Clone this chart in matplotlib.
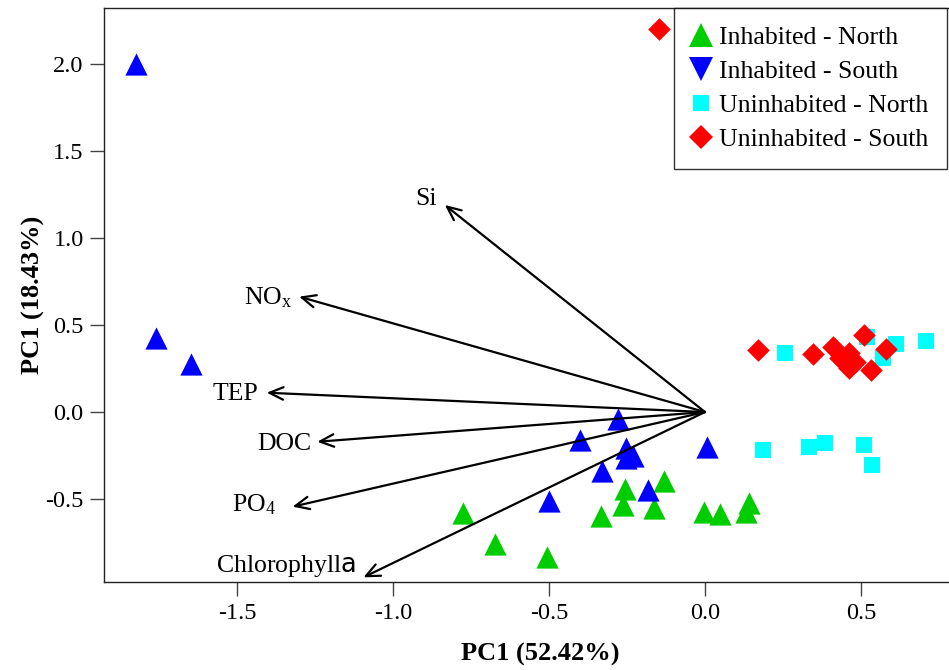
import matplotlib
matplotlib.use("Agg")
import matplotlib.pyplot as plt
from matplotlib.lines import Line2D

plt.rcParams["font.family"] = ["Liberation Serif", "DejaVu Serif"]
plt.rcParams["mathtext.fontset"] = "custom"
plt.rcParams["mathtext.rm"] = "Liberation Serif"
plt.rcParams["mathtext.it"] = "Liberation Serif:italic"
plt.rcParams["mathtext.sf"] = "DejaVu Sans"
plt.rcParams["axes.unicode_minus"] = False

# PCA scores per group
inh_north_x = [-0.132, -0.256, -0.262, -0.164, -0.334, -0.776, -0.674, -0.507,
               -0.003, 0.049, 0.141, 0.131]
inh_north_y = [-0.395, -0.441, -0.533, -0.552, -0.598, -0.582, -0.760, -0.832,
               -0.573, -0.588, -0.525, -0.573]

inh_south_x = [-1.824, -1.760, -1.648, -0.278, -0.400, -0.254, -0.230, -0.253,
               -0.329, -0.182, -0.500, 0.005]
inh_south_y = [1.998, 0.427, 0.274, -0.042, -0.161, -0.207, -0.253, -0.264,
               -0.339, -0.448, -0.511, -0.199]

uninh_north_x = [0.256, 0.518, 0.611, 0.709, 0.572, 0.185, 0.333, 0.385, 0.510, 0.536]
uninh_north_y = [0.341, 0.433, 0.389, 0.410, 0.309, -0.218, -0.199, -0.176, -0.190, -0.303]

uninh_south_x = [-0.147, 0.169, 0.347, 0.410, 0.433, 0.463, 0.462, 0.481, 0.511, 0.580, 0.531]
uninh_south_y = [2.201, 0.356, 0.333, 0.375, 0.309, 0.337, 0.251, 0.289, 0.443, 0.362, 0.241]

# loadings (arrow tips) and label anchors
var_names = ["Si", r"NO$_{\mathrm{x}}$", "TEP", "DOC", r"PO$_{\mathrm{4}}$",
             r"Chlorophyll$\mathsf{a}$"]
load_x = [-0.834, -1.301, -1.405, -1.243, -1.322, -1.095]
load_y = [1.190, 0.663, 0.111, -0.171, -0.544, -0.950]
label_x = [-0.895, -1.401, -1.504, -1.350, -1.446, -1.343]
label_y = [1.224, 0.655, 0.103, -0.184, -0.534, -0.885]

x_ticks = [-1.5, -1.0, -0.5, 0.0, 0.5]
y_ticks = [-0.5, 0.0, 0.5, 1.0, 1.5, 2.0]

fig = plt.figure(figsize=(9.49, 6.70), dpi=100)
ax = fig.add_axes([0.1101, 0.1313, 0.9194, 0.8568])

ax.scatter(inh_north_x, inh_north_y, marker="^", s=16**2, color="#00CD00",
           linewidths=0, zorder=3)
ax.scatter(inh_south_x, inh_south_y, marker="^", s=16**2, color="#0000FF",
           linewidths=0, zorder=3)
ax.scatter(uninh_north_x, uninh_north_y, marker="s", s=12**2, color="#00FFFF",
           linewidths=0, zorder=3)
ax.scatter(uninh_south_x, uninh_south_y, marker="D", s=11.5**2, color="#FF0000",
           linewidths=0, zorder=4)

for lx, ly in zip(load_x, load_y):
    ax.annotate("", xy=(lx, ly), xytext=(0, 0),
                arrowprops=dict(arrowstyle="->,head_length=1.0,head_width=0.45",
                                color="black", lw=1.6, shrinkA=0, shrinkB=0),
                zorder=5)
for name, tx, ty in zip(var_names, label_x, label_y):
    ax.text(tx, ty, name, ha="center", va="center", fontsize=18.5, zorder=6)

ax.set_xlim(-1.925, 0.872)
ax.set_ylim(-0.977, 2.322)
ax.set_xticks(x_ticks)
ax.set_yticks(y_ticks)
ax.set_xticklabels([f"{v:.1f}" for v in x_ticks])
ax.set_yticklabels([f"{v:.1f}" for v in y_ticks])
ax.tick_params(labelsize=17.5, length=10, width=1, color="#444444", pad=5)
for sp in ax.spines.values():
    sp.set_linewidth(1)
    sp.set_color("#222222")

ax.set_xlabel("PC1 (52.42%)", fontsize=19, fontweight="bold", labelpad=14)
ax.set_ylabel("PC1 (18.43%)", fontsize=19, fontweight="bold", labelpad=0)

handles = [
    Line2D([], [], marker="^", ls="none", color="#00CD00", ms=17, mew=0),
    Line2D([], [], marker="v", ls="none", color="#0000FF", ms=17, mew=0),
    Line2D([], [], marker="s", ls="none", color="#00FFFF", ms=12, mew=0),
    Line2D([], [], marker="D", ls="none", color="#FF0000", ms=12, mew=0),
]
labels = ["Inhabited - North", "Inhabited - South", "Uninhabited - North",
          "Uninhabited - South"]
leg = ax.legend(handles, labels, loc="upper right",
                bbox_to_anchor=(947 / 949, 1 - 8 / 670),
                bbox_transform=fig.transFigure, borderaxespad=0,
                fontsize=18.5, frameon=True, fancybox=False, edgecolor="black",
                handlelength=0.65, handletextpad=0.4,
                labelspacing=0.42, borderpad=0.72)
leg.get_frame().set_linewidth(1)

fig.savefig("out.png", dpi=100)
